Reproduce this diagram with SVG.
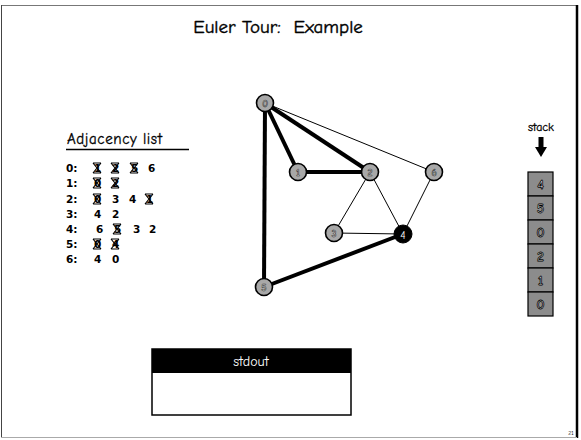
<svg xmlns="http://www.w3.org/2000/svg" width="581" height="440" viewBox="0 0 581 440">
<style>
text{font-family:"Comic Neue","DejaVu Sans","Liberation Sans",sans-serif;fill:#000}
.title{font-size:19px;stroke:#000;stroke-width:0.4;white-space:pre}
.adj text{font-family:"DejaVu Sans","Liberation Sans",sans-serif;font-size:10.5px;font-weight:bold}
.node circle{fill:#a8a8a8;stroke:#000;stroke-width:1.6}
.node text{font-size:10px;font-weight:bold;text-anchor:middle;fill:#fff;stroke:#333;stroke-width:0.6}
.thick{stroke:#000;stroke-width:4;fill:none}
.thin{stroke:#000;stroke-width:1;fill:none}
.cross{stroke:#000;stroke-width:1.2;fill:none}
.sbox rect{fill:#8c8c8c;stroke:#000;stroke-width:1.2}
.sbox text{font-size:14px;font-weight:bold;text-anchor:middle;fill:#fff;stroke:#000;stroke-width:0.8}
</style>
<rect x="0" y="0" width="581" height="440" fill="#fff"/>
<g id="frame">
<line x1="1" y1="5.5" x2="577" y2="5.5" stroke="#777" stroke-width="1"/>
<line x1="1.5" y1="5" x2="1.5" y2="437" stroke="#444" stroke-width="1"/>
<line x1="577" y1="5" x2="577" y2="438" stroke="#000" stroke-width="2.5"/>
<line x1="1" y1="437.5" x2="577" y2="437.5" stroke="#aaa" stroke-width="1"/>
</g>
<text class="title" x="278" y="33" text-anchor="middle" xml:space="preserve">Euler Tour:  Example</text>

<g id="adjacency">
<text x="67" y="144" font-size="15" textLength="95" style="stroke:#000;stroke-width:0.3">Adjacency list</text>
<line x1="66" y1="149.5" x2="189" y2="149.5" stroke="#000" stroke-width="1.5"/>
<g class="adj">
<text x="66" y="172">0:</text><text x="94" y="172">1</text><text x="112" y="172">2</text><text x="131" y="172">5</text><text x="148" y="172">6</text>
<text x="66" y="187">1:</text><text x="94" y="187">0</text><text x="112" y="187">2</text>
<text x="66" y="203">2:</text><text x="94" y="203">0</text><text x="112" y="203">3</text><text x="129" y="203">4</text><text x="146" y="203">1</text>
<text x="66" y="218">3:</text><text x="94" y="218">4</text><text x="112" y="218">2</text>
<text x="66" y="233">4:</text><text x="96" y="233">6</text><text x="114" y="233">5</text><text x="133" y="233">3</text><text x="149" y="233">2</text>
<text x="66" y="248">5:</text><text x="94" y="248">0</text><text x="112" y="248">4</text>
<text x="66" y="263">6:</text><text x="94" y="263">4</text><text x="112" y="263">0</text>
</g>
<g class="cross">
<path d="M93,163 L101,173 M101,163 L93,173 M93,163 H101 M93,173 H101"/>
<path d="M111,163 L119,173 M119,163 L111,173 M111,163 H119 M111,173 H119"/>
<path d="M130,163 L138,173 M138,163 L130,173 M130,163 H138 M130,173 H138"/>
<path d="M93,178 L101,188 M101,178 L93,188 M93,178 H101 M93,188 H101"/>
<path d="M111,178 L119,188 M119,178 L111,188 M111,178 H119 M111,188 H119"/>
<path d="M93,194 L101,204 M101,194 L93,204 M93,194 H101 M93,204 H101"/>
<path d="M145,194 L153,204 M153,194 L145,204 M145,194 H153 M145,204 H153"/>
<path d="M113,224 L121,234 M121,224 L113,234 M113,224 H121 M113,234 H121"/>
<path d="M93,239 L101,249 M101,239 L93,249 M93,239 H101 M93,249 H101"/>
<path d="M111,239 L119,249 M119,239 L111,249 M111,239 H119 M111,249 H119"/>
</g>
</g>

<g id="connectors">
<line class="thick" x1="265" y1="103" x2="264" y2="287"/>
<line class="thick" x1="265" y1="103" x2="298" y2="172"/>
<line class="thick" x1="265" y1="103" x2="370" y2="172"/>
<line class="thick" x1="298" y1="172" x2="370" y2="172"/>
<line class="thick" x1="264" y1="287" x2="403" y2="234"/>
<line class="thin" x1="265" y1="103" x2="434" y2="172"/>
<line class="thin" x1="370" y1="172" x2="334" y2="233"/>
<line class="thin" x1="370" y1="172" x2="403" y2="234"/>
<line class="thin" x1="334" y1="233" x2="403" y2="234"/>
<line class="thin" x1="434" y1="172" x2="403" y2="234"/>
</g>

<g id="node0" class="node"><circle cx="265" cy="103" r="8.5"/><text x="265" y="107">0</text></g>
<g id="node1" class="node"><circle cx="298" cy="172" r="8.5"/><text x="298" y="176">1</text></g>
<g id="node2" class="node"><circle cx="370" cy="172" r="8.5"/><text x="370" y="176">2</text></g>
<g id="node6" class="node"><circle cx="434" cy="172" r="8.5"/><text x="434" y="176">6</text></g>
<g id="node3" class="node"><circle cx="334" cy="233" r="8.5"/><text x="334" y="237">3</text></g>
<g id="node4"><circle cx="403" cy="234" r="9" fill="#000" stroke="#000"/><text x="403" y="238.5" font-size="11" text-anchor="middle" style="fill:#fff">4</text></g>
<g id="node5" class="node"><circle cx="264" cy="287" r="8.5"/><text x="264" y="291">5</text></g>

<g id="stack">
<text x="541" y="131" font-size="12" text-anchor="middle" style="stroke:#000;stroke-width:0.3">stack</text>
<rect x="538.5" y="137" width="5" height="11" fill="#000"/>
<path d="M535,147 L547,147 L541,157 Z" fill="#000"/>
<g class="sbox">
<rect x="528" y="172" width="25" height="24"/><text x="540.5" y="189">4</text>
<rect x="528" y="196" width="25" height="24"/><text x="540.5" y="213">5</text>
<rect x="528" y="220" width="25" height="24"/><text x="540.5" y="237">0</text>
<rect x="528" y="244" width="25" height="24"/><text x="540.5" y="261">2</text>
<rect x="528" y="268" width="25" height="24"/><text x="540.5" y="285">1</text>
<rect x="528" y="292" width="25" height="24"/><text x="540.5" y="309">0</text>
</g>
</g>

<g id="stdout">
<rect x="152" y="349" width="199" height="66" fill="#fff" stroke="#000" stroke-width="1.5"/>
<rect x="152" y="349" width="199" height="24" fill="#000"/>
<text x="251" y="366" font-size="14" text-anchor="middle" style="fill:#fff">stdout</text>
</g>
<text x="571" y="435" font-size="6" text-anchor="middle">21</text>
</svg>
